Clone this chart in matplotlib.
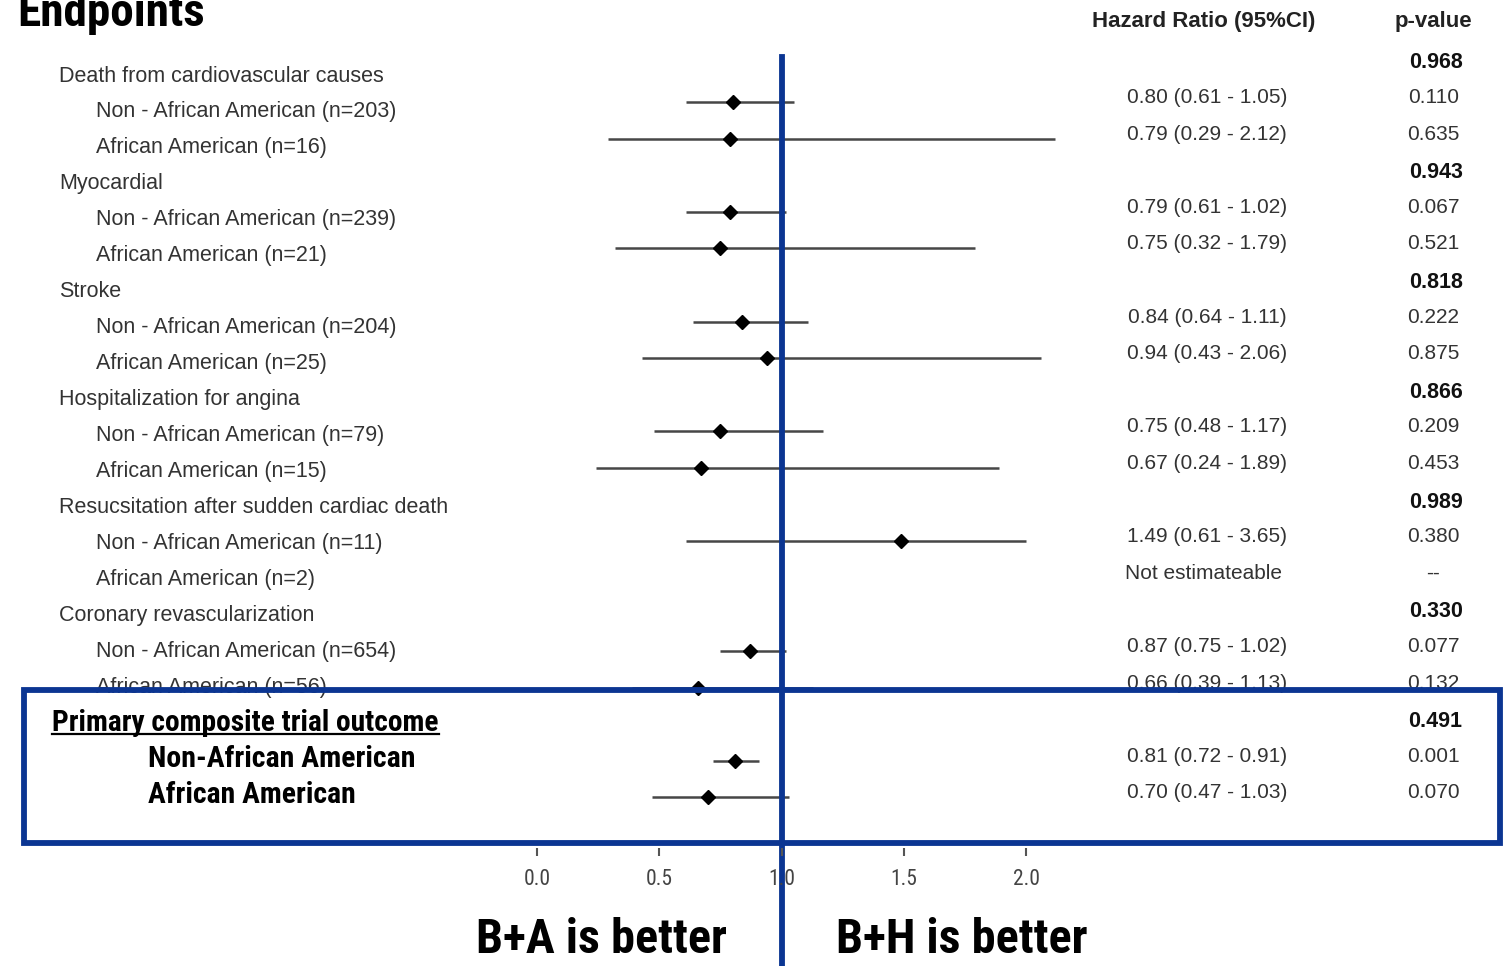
import numpy as np
import matplotlib
matplotlib.use("Agg")
import matplotlib.pyplot as plt
import matplotlib.transforms as mtransforms
from matplotlib import font_manager as fm
from matplotlib.patches import Rectangle
from matplotlib.lines import Line2D

# endpoint groups
groups = ["Death from cardiovascular causes", "Myocardial", "Stroke",
          "Hospitalization for angina", "Resucsitation after sudden cardiac death",
          "Coronary revascularization"]
group_p = ["0.968", "0.943", "0.818", "0.866", "0.989", "0.330"]

# non - african american subgroup
n_non = [203, 239, 204, 79, 11, 654]
hr_non = [0.80, 0.79, 0.84, 0.75, 1.49, 0.87]
lo_non = [0.61, 0.61, 0.64, 0.48, 0.61, 0.75]
hi_non = [1.05, 1.02, 1.11, 1.17, 3.65, 1.02]
p_non = ["0.110", "0.067", "0.222", "0.209", "0.380", "0.077"]

# african american subgroup
n_aa = [16, 21, 25, 15, 2, 56]
hr_aa = [0.79, 0.75, 0.94, 0.67, np.nan, 0.66]
lo_aa = [0.29, 0.32, 0.43, 0.24, np.nan, 0.39]
hi_aa = [2.12, 1.79, 2.06, 1.89, np.nan, 1.13]
p_aa = ["0.635", "0.521", "0.875", "0.453", "--", "0.132"]

# primary composite outcome
prim_labels = ["Non-African American", "African American"]
prim_hr = [0.81, 0.70]
prim_lo = [0.72, 0.47]
prim_hi = [0.91, 1.03]
prim_p = ["0.001", "0.070"]
prim_group_p = "0.491"

ticks = [0.0, 0.5, 1.0, 1.5, 2.0]
# very long CIs are cut at the end of the axis
clip_above, clip_to = 2.5, 2.0

W, H = 1504, 966
BLUE = "#0b3592"
GREY = "#333333"
sans = ["Liberation Sans", "DejaVu Sans"]

# pick a condensed family if one is installed
names = {f.name for f in fm.fontManager.ttflist}
narrow = [n for n in ["Liberation Sans Narrow", "Roboto Condensed", "Open Sans Condensed",
                      "Roboto"] if n in names][:1] + ["DejaVu Sans"]

fig = plt.figure(figsize=(W / 100, H / 100), dpi=100)
fig.patch.set_facecolor("white")

# main axes: x in hazard ratio units, y in row numbers
ax = fig.add_axes([0, 0, 1, 1])
x0_px, unit_px = 537.0, 244.5
ax.set_xlim(-x0_px / unit_px, (W - x0_px) / unit_px)
row0_px, row_px = 65.4, 36.6
ax.set_ylim((H - row0_px) / row_px, -row0_px / row_px)
ax.axis("off")

# label axes (row spacing of the text column differs a little)
lab = fig.add_axes([0, 0, 1, 1])
lab.set_xlim(0, 1)
lab0_px, lab_px = 76.0, 35.95
lab.set_ylim((H - lab0_px) / lab_px, -lab0_px / lab_px)
lab.axis("off")
lab.patch.set_visible(False)

col = mtransforms.blended_transform_factory(fig.transFigure, ax.transData)
txt_shift = -4.5 / row_px
grp_shift = -2.5 / row_px

# build rows
est_y, est_hr, est_lo, est_hi = [], [], [], []
for i, g in enumerate(groups):
    r = 3 * i
    lab.text(0.0392, r, g, ha="left", va="center", fontsize=15.5, color=GREY, family=sans)
    ax.text(0.9545, r + grp_shift, group_p[i], transform=col, ha="center", va="center",
            fontsize=15.5, fontweight="bold", color="#111111", family=sans)
    subs = [("Non - African American (n=%d)" % n_non[i], hr_non[i], lo_non[i], hi_non[i], p_non[i]),
            ("African American (n=%d)" % n_aa[i], hr_aa[i], lo_aa[i], hi_aa[i], p_aa[i])]
    for k, (name, h, lo, hi, p) in enumerate(subs):
        rr = r + 1 + k
        lab.text(0.0638, rr, name, ha="left", va="center", fontsize=15.5, color=GREY, family=sans)
        if np.isnan(h):
            ax.text(0.748, rr + txt_shift, "Not estimateable", transform=col, ha="left",
                    va="center", fontsize=15, color=GREY, family=sans)
        else:
            ax.text(0.8025, rr + txt_shift, "%.2f (%.2f - %.2f)" % (h, lo, hi), transform=col,
                    ha="center", va="center", fontsize=15, color=GREY, family=sans)
            est_y.append(rr); est_hr.append(h); est_lo.append(lo); est_hi.append(hi)
        ax.text(0.953, rr + txt_shift, p, transform=col, ha="center", va="center",
                fontsize=15, color=GREY, family=sans)

# primary composite outcome rows
r = 3 * len(groups)
big = []
ptitle = lab.text(0.0346, r, "Primary composite trial outcome", ha="left", va="center",
                  fontsize=21, fontweight="bold", color="black", family=narrow)
big.append((ptitle, 386))
ax.text(0.9545, r + grp_shift, prim_group_p, transform=col, ha="center", va="center",
        fontsize=15.5, fontweight="bold", color="#111111", family=sans)
for k in range(2):
    rr = r + 1 + k
    t = lab.text(0.0984, rr, prim_labels[k], ha="left", va="center", fontsize=21,
                 fontweight="bold", color="black", family=narrow)
    big.append((t, [267, 208][k]))
    ax.text(0.8025, rr + txt_shift, "%.2f (%.2f - %.2f)" % (prim_hr[k], prim_lo[k], prim_hi[k]),
            transform=col, ha="center", va="center", fontsize=15, color=GREY, family=sans)
    ax.text(0.953, rr + txt_shift, prim_p[k], transform=col, ha="center", va="center",
            fontsize=15, color=GREY, family=sans)
    est_y.append(rr); est_hr.append(prim_hr[k]); est_lo.append(prim_lo[k]); est_hi.append(prim_hi[k])

est_y = np.array(est_y)
est_hi = np.array(est_hi)
ax.hlines(est_y, est_lo, np.where(est_hi > clip_above, clip_to, est_hi),
          color="#474747", lw=1.8, zorder=2)
ax.plot(est_hr, est_y, "D", color="black", markersize=7.4, zorder=3)

# reference line at 1
ax.axvline(1.0, ymin=0, ymax=1 - 57 / H, color=BLUE, lw=4.2, zorder=4)

# column headers
fig.text(0.8005, 1 - 21 / H, "Hazard Ratio (95%CI)", ha="center", va="center",
         fontsize=16, fontweight="bold", color="#222222", family=sans)
fig.text(0.953, 1 - 21 / H, "p-value", ha="center", va="center",
         fontsize=16, fontweight="bold", color="#222222", family=sans)

# x axis (ticks only)
axt = fig.add_axes([0, 1 - 848 / H, 1, 0.0001])
axt.set_xlim(ax.get_xlim())
axt.patch.set_visible(False)
for s in axt.spines.values():
    s.set_visible(False)
axt.set_yticks([])
axt.set_xticks(ticks)
axt.set_xticklabels(["%.1f" % t for t in ticks], family=narrow)
axt.tick_params(axis="x", direction="out", length=6, width=1.5, color="#555555",
                labelsize=15.5, labelcolor="#444444", pad=9)

# highlight box around the primary outcome
box = Rectangle((24 / W, 1 - 843 / H), (1500 - 24) / W, (843 - 690) / H,
                transform=fig.transFigure, fill=False, ec=BLUE, lw=4.2, zorder=5)
fig.add_artist(box)

t = fig.text(17 / W, 1 - 26 / H, "Endpoints", ha="left", va="baseline", fontsize=36,
             fontweight="bold", color="black", family=narrow)
big.append((t, 188))
t = fig.text(601 / W, 1 - 953 / H, "B+A is better", ha="center", va="baseline", fontsize=36,
             fontweight="bold", color="black", family=narrow)
big.append((t, 251))
t = fig.text(962 / W, 1 - 953 / H, "B+H is better", ha="center", va="baseline", fontsize=36,
             fontweight="bold", color="black", family=narrow)
big.append((t, 252))

# size the condensed texts to the widths they take in the original
renderer = fig.canvas.get_renderer()
for t, target in big:
    w = t.get_window_extent(renderer).width
    t.set_fontsize(t.get_fontsize() * target / w)

# underline for the primary outcome title
fig.canvas.draw()
bb = ptitle.get_window_extent(fig.canvas.get_renderer())
inv = fig.transFigure.inverted()
(ux0, uy0), (ux1, _) = inv.transform([(bb.x0, bb.y0 + 3), (bb.x1, bb.y0)])
fig.add_artist(Line2D([ux0, ux1], [uy0, uy0], transform=fig.transFigure, color="black", lw=1.6))

fig.savefig("out.png", dpi=100)
